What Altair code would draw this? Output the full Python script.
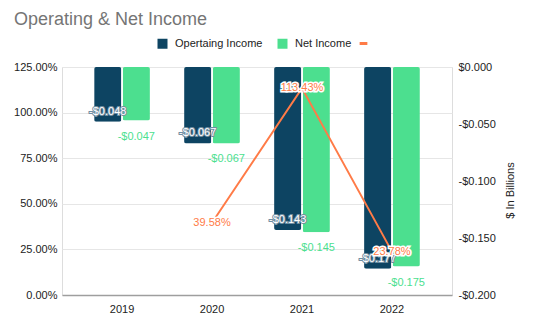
import altair as alt
import pandas as pd

years = ["2019", "2020", "2021", "2022"]
operating_income = [-0.048, -0.067, -0.143, -0.177]
net_income = [-0.047, -0.067, -0.145, -0.175]
margin_pct = [None, 0.3958, 1.1343, 0.2378]
series_names = ["Opertaing Income", "Net Income"]
series_colors = ["#0d4462", "#4cdf8f"]
line_color = "#ff7b47"
pct_ticks = [0, 0.25, 0.5, 0.75, 1.0, 1.25]
usd_ticks = [-0.2, -0.15, -0.1, -0.05, 0]

FONT = "Liberation Sans"

bars_df = pd.DataFrame({
    "year": years * 2,
    "series": [series_names[0]] * 4 + [series_names[1]] * 4,
    "value": operating_income + net_income,
})
line_df = pd.DataFrame({"year": years, "margin": margin_pct, "lineName": [" "] * 4})

x = alt.X(
    "year:N", sort=years, title=None,
    scale=alt.Scale(paddingInner=0.38, paddingOuter=0.357),
    axis=alt.Axis(labelAngle=0, ticks=False, domainColor="#9e9e9e", domainWidth=1.5,
                  labelPadding=8, labelFontSize=11, labelColor="#222", labelFont=FONT),
)
x_off = alt.XOffset("series:N", sort=series_names, scale=alt.Scale(paddingInner=0.05))

usd_scale = alt.Scale(domain=[-0.2, 0], nice=False, zero=False)
usd_axis = alt.Axis(
    orient="right", values=usd_ticks, grid=False, domain=False, ticks=False,
    labelExpr="(datum.value < 0 ? '-$' : '$') + format(abs(datum.value), '.3f')",
    labelPadding=6, labelFontSize=11, labelColor="#222", labelFont=FONT,
    title="$ In Billions", titleAngle=270, titleFontSize=11, titleFontWeight="normal",
    titleColor="#222", titleFont=FONT, titlePadding=20, titleY=123,
)
y_usd = alt.Y("value:Q", scale=usd_scale, axis=usd_axis)

pct_scale = alt.Scale(domain=[0, 1.25], nice=False)
pct_axis = alt.Axis(
    orient="left", values=pct_ticks, format=".2%", grid=True, gridColor="#e6e6e6",
    domain=False, ticks=False, labelPadding=5, labelFontSize=11, labelColor="#222",
    labelFont=FONT, title=None,
)
y_pct = alt.Y("margin:Q", scale=pct_scale, axis=pct_axis)

bars = alt.Chart(bars_df).mark_bar(cornerRadius=2).encode(
    x=x, xOffset=x_off, y=y_usd,
    color=alt.Color(
        "series:N", sort=series_names,
        scale=alt.Scale(domain=series_names, range=series_colors),
        legend=alt.Legend(
            orient="none", legendX=95, legendY=-29, direction="horizontal", title=None,
            symbolType="square", symbolSize=100, symbolStrokeWidth=0,
            labelFontSize=11, labelColor="#222", labelFont=FONT,
            columnPadding=14, labelOffset=7,
        ),
    ),
)

lab_base = alt.Chart(bars_df).transform_calculate(
    label="'-$' + format(abs(datum.value), '.3f')"
).encode(x=x, xOffset=x_off, y=y_usd, text="label:N")

op_only = lab_base.transform_filter(alt.datum.series == series_names[0])
net_only = lab_base.transform_filter(alt.datum.series == series_names[1])

op_halo = op_only.mark_text(dy=-10, fontSize=11, font=FONT, stroke="#6f8ea3",
                            strokeWidth=2, fill="#6f8ea3")
op_text = op_only.mark_text(dy=-10, fontSize=11, font=FONT, fill="white")
net_text = net_only.mark_text(dy=16, fontSize=11, font=FONT, fill=series_colors[1])

line_base = alt.Chart(line_df).transform_filter("isValid(datum.margin)")
line = line_base.mark_line(strokeWidth=2).encode(
    x=x, y=y_pct,
    stroke=alt.Stroke(
        "lineName:N",
        scale=alt.Scale(domain=[" "], range=[line_color]),
        legend=alt.Legend(
            orient="none", legendX=296, legendY=-29, title=None,
            symbolType="stroke", symbolStrokeWidth=3, symbolSize=60,
            labelFontSize=11,
        ),
    ),
)
pct_lab = line_base.transform_calculate(plabel="format(datum.margin, '.2%')").encode(
    x=x, y=y_pct, text="plabel:N"
)
pct_halo = pct_lab.mark_text(fontSize=11, font=FONT, stroke="white", strokeWidth=3, fill="white")
pct_text = pct_lab.mark_text(fontSize=11, font=FONT, fill=line_color)

bar_layer = alt.layer(bars, op_halo, op_text, net_text)
line_layer = alt.layer(line, pct_halo, pct_text)

chart = alt.layer(bar_layer, line_layer).resolve_scale(
    y="independent", color="independent", stroke="independent"
).properties(
    width=390, height=228,
    padding={"left": 62, "top": 67, "right": 82, "bottom": 30},
    autosize=alt.AutoSizeParams(type="none"),
    title=alt.Title("Operating & Net Income", anchor="start", frame="group", dx=-48,
                    offset=9, fontSize=18, color="#757575", font=FONT, fontWeight="normal"),
).configure_view(stroke=None).configure(background="white")

chart.save("out.html", embed_options={"renderer": "svg", "actions": False})
